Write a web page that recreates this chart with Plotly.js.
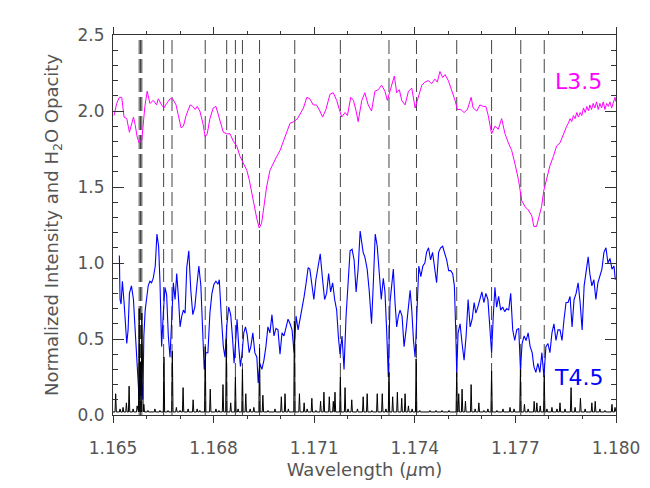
<!DOCTYPE html>
<html>
<head>
<meta charset="utf-8">
<script src="https://cdn.plot.ly/plotly-3.0.1.min.js"></script>
<style>
  body { margin: 0; background: #fff; }
  #chart { width: 650px; height: 488px; }
</style>
</head>
<body>
<div id="chart"></div>
<script>
// L3.5 spectrum (offset by +1)
var lWave = [
  1.16503,1.16511,1.16519,1.16526,1.16533,1.16541,1.16549,1.16561,1.16566,1.16572,
  1.16578,1.16586,1.16595,1.16602,1.16610,1.16620,1.16630,1.16635,1.16645,1.16652,
  1.16660,1.16670,1.16678,1.16688,1.16695,1.16703,1.16710,1.16718,1.16730,1.16738,
  1.16745,1.16751,1.16759,1.16768,1.16775,1.16781,1.16789,1.16799,1.16807,1.16814,
  1.16821,1.16829,1.16839,1.16849,1.16859,1.16869,1.16879,1.16889,1.16899,1.16906,
  1.16914,1.16920,1.16929,1.16936,1.16943,1.16950,1.16958,1.16968,1.16978,1.16988,
  1.16998,1.17008,1.17018,1.17028,1.17040,1.17050,1.17058,1.17068,1.17078,1.17087,
  1.17097,1.17107,1.17117,1.17125,1.17135,1.17147,1.17157,1.17167,1.17175,1.17182,
  1.17192,1.17199,1.17209,1.17217,1.17225,1.17231,1.17242,1.17251,1.17261,1.17271,
  1.17281,1.17291,1.17301,1.17311,1.17318,1.17326,1.17333,1.17339,1.17346,1.17354,
  1.17361,1.17371,1.17381,1.17391,1.17401,1.17410,1.17421,1.17430,1.17440,1.17450,
  1.17460,1.17467,1.17475,1.17483,1.17490,1.17500,1.17510,1.17520,1.17527,1.17537,
  1.17547,1.17557,1.17568,1.17574,1.17585,1.17594,1.17604,1.17612,1.17619,1.17629,
  1.17639,1.17649,1.17659,1.17669,1.17679,1.17689,1.17699,1.17709,1.17719,1.17729,
  1.17738,1.17749,1.17755,1.17763,1.17771,1.17778,1.17785,1.17793,1.17803,1.17813,
  1.17823,1.17833,1.17843,1.17853,1.17858,1.17863,1.17868,1.17873,1.17878,1.17883,
  1.17888,1.17893,1.17898,1.17903,1.17908,1.17913,1.17918,1.17922,1.17927,1.17932,
  1.17937,1.17942,1.17947,1.17952,1.17957,1.17962,1.17967,1.17972,1.17977,1.17982,
  1.17987,1.17992,1.17997,1.18000
];
var lFlux = [
  1.97,2.05,2.09,2.09,1.96,1.95,1.86,1.96,1.91,1.83,
  1.79,1.81,2.03,2.13,2.05,2.07,2.04,2.08,2.04,2.02,
  2.05,2.08,2.08,2.04,1.97,1.89,1.90,1.97,2.04,2.03,
  2.01,2.03,2.00,1.92,1.83,1.85,1.95,2.02,2.03,1.98,
  1.92,1.86,1.85,1.85,1.80,1.77,1.70,1.66,1.61,1.55,
  1.46,1.37,1.29,1.23,1.26,1.37,1.50,1.61,1.66,1.70,
  1.74,1.80,1.87,1.92,1.93,1.95,1.98,2.02,2.09,2.08,
  2.04,2.04,2.00,1.96,2.01,2.11,2.12,2.07,2.01,1.96,
  1.99,1.97,2.09,2.07,2.00,1.93,2.07,2.12,2.04,2.00,
  2.13,2.14,2.17,2.13,2.07,2.13,2.18,2.23,2.12,2.14,
  2.07,2.04,2.13,2.15,2.02,2.09,2.17,2.19,2.20,2.18,
  2.21,2.19,2.26,2.22,2.24,2.20,2.14,2.07,2.01,2.01,
  1.99,2.01,2.09,2.02,2.00,2.04,2.03,2.03,1.97,1.85,
  1.90,1.88,1.95,1.85,1.79,1.74,1.65,1.55,1.41,1.37,
  1.35,1.31,1.24,1.24,1.31,1.37,1.48,1.55,1.64,1.70,
  1.77,1.79,1.85,1.90,1.92,1.95,1.93,1.97,1.95,1.99,
  1.96,1.99,1.97,2.02,1.99,2.03,2.00,2.04,2.01,2.05,
  2.02,2.06,2.01,2.05,2.02,2.06,2.01,2.05,2.03,2.06,
  2.02,2.05,2.09,2.06
];

// T4.5 spectrum
var tWave = [
  1.16519,1.16521,1.16524,1.16528,1.16533,1.16537,1.16541,1.16545,1.16549,1.16555,
  1.16561,1.16565,1.16569,1.16572,1.16575,1.16578,1.16581,1.16584,1.16589,1.16592,
  1.16596,1.16600,1.16605,1.16610,1.16615,1.16620,1.16626,1.16631,1.16636,1.16640,
  1.16645,1.16650,1.16655,1.16660,1.16665,1.16670,1.16675,1.16680,1.16685,1.16690,
  1.16695,1.16700,1.16705,1.16710,1.16715,1.16720,1.16726,1.16732,1.16738,1.16744,
  1.16750,1.16756,1.16762,1.16768,1.16772,1.16777,1.16783,1.16789,1.16795,1.16801,
  1.16807,1.16813,1.16817,1.16823,1.16829,1.16834,1.16839,1.16845,1.16851,1.16857,
  1.16861,1.16866,1.16870,1.16875,1.16880,1.16885,1.16890,1.16895,1.16900,1.16906,
  1.16911,1.16917,1.16923,1.16929,1.16933,1.16938,1.16944,1.16950,1.16956,1.16962,
  1.16968,1.16974,1.16980,1.16986,1.16992,1.16998,1.17004,1.17010,1.17016,1.17022,
  1.17028,1.17034,1.17040,1.17046,1.17052,1.17058,1.17064,1.17070,1.17076,1.17082,
  1.17087,1.17093,1.17099,1.17105,1.17111,1.17118,1.17125,1.17131,1.17137,1.17143,
  1.17149,1.17155,1.17161,1.17167,1.17172,1.17177,1.17183,1.17189,1.17195,1.17201,
  1.17207,1.17213,1.17219,1.17225,1.17231,1.17237,1.17242,1.17246,1.17251,1.17258,
  1.17264,1.17271,1.17276,1.17282,1.17288,1.17294,1.17300,1.17306,1.17311,1.17316,
  1.17321,1.17326,1.17331,1.17336,1.17341,1.17346,1.17351,1.17356,1.17362,1.17368,
  1.17374,1.17380,1.17386,1.17391,1.17396,1.17401,1.17406,1.17412,1.17418,1.17424,
  1.17430,1.17435,1.17441,1.17447,1.17453,1.17459,1.17465,1.17471,1.17477,1.17483,
  1.17489,1.17495,1.17501,1.17507,1.17513,1.17518,1.17522,1.17525,1.17529,1.17535,
  1.17541,1.17547,1.17553,1.17559,1.17565,1.17571,1.17577,1.17582,1.17588,1.17594,
  1.17600,1.17606,1.17612,1.17618,1.17624,1.17629,1.17634,1.17639,1.17644,1.17650,
  1.17656,1.17662,1.17668,1.17674,1.17680,1.17686,1.17692,1.17698,1.17704,1.17710,
  1.17715,1.17720,1.17726,1.17732,1.17738,1.17744,1.17750,1.17755,1.17761,1.17767,
  1.17773,1.17779,1.17785,1.17791,1.17797,1.17803,1.17809,1.17815,1.17821,1.17827,
  1.17833,1.17839,1.17845,1.17851,1.17857,1.17863,1.17869,1.17875,1.17881,1.17887,
  1.17893,1.17899,1.17905,1.17911,1.17917,1.17922,1.17928,1.17934,1.17940,1.17946,
  1.17952,1.17958,1.17964,1.17970,1.17976,1.17982,1.17988,1.17994,1.17998
];
var tFlux = [
  1.05,0.76,0.73,0.88,0.74,0.63,0.47,0.56,0.80,0.85,
  0.76,0.60,0.43,0.30,0.19,0.10,0.30,0.25,0.10,0.52,
  0.69,0.76,0.85,0.88,0.87,0.90,0.98,1.19,1.11,0.88,
  0.45,0.67,0.84,0.79,0.52,0.38,0.58,0.87,0.76,0.93,
  0.78,0.58,0.65,0.69,0.67,0.97,1.08,0.82,0.66,0.71,
  0.85,0.98,0.85,0.56,0.30,0.41,0.41,0.67,0.80,0.86,
  0.88,0.86,0.89,0.65,0.45,0.38,0.58,0.71,0.66,0.49,
  0.34,0.49,0.63,0.45,0.32,0.41,0.54,0.58,0.53,0.41,
  0.45,0.54,0.41,0.38,0.21,0.34,0.30,0.36,0.45,0.58,
  0.54,0.66,0.52,0.57,0.56,0.40,0.54,0.52,0.57,0.63,
  0.60,0.56,0.41,0.65,0.56,0.63,0.69,0.78,0.87,0.97,
  0.96,0.85,0.76,0.89,0.96,1.06,0.89,0.76,0.80,0.93,
  0.81,0.87,0.76,0.69,0.52,0.40,0.52,0.30,0.65,0.90,
  1.08,1.09,1.02,0.81,0.96,1.21,1.12,1.07,1.04,0.96,
  0.82,0.60,0.85,1.19,1.11,0.96,0.76,0.90,0.81,0.56,
  0.25,0.74,0.85,0.96,0.74,0.58,0.65,0.69,0.65,0.45,
  0.56,0.71,0.82,0.69,0.49,0.38,0.67,0.98,0.91,0.98,
  1.00,1.07,1.10,1.02,1.07,0.97,0.87,1.07,1.10,1.11,
  1.07,1.02,0.95,0.95,0.93,0.85,0.56,0.28,0.54,0.60,
  0.47,0.36,0.52,0.76,0.58,0.63,0.74,0.67,0.71,0.76,
  0.81,0.74,0.80,0.76,0.58,0.41,0.65,0.84,0.71,0.78,
  0.69,0.71,0.68,0.70,0.69,0.80,0.56,0.49,0.56,0.57,
  0.30,0.47,0.52,0.49,0.54,0.45,0.41,0.32,0.28,0.34,
  0.28,0.41,0.25,0.45,0.47,0.41,0.54,0.60,0.49,0.56,
  0.56,0.49,0.63,0.74,0.74,0.78,0.58,0.76,0.80,0.87,
  0.74,0.56,0.85,0.96,1.04,0.93,0.85,0.89,0.76,0.87,
  0.91,0.96,1.07,1.10,1.00,1.03,0.96,0.98,0.89
];

// H2O opacity: line centres and peak heights, sitting on a low floor
var h2oWave = [
  1.16508,1.16521,1.16530,1.16540,1.16548,1.16560,1.16572,1.16578,1.16582,1.16586,
  1.16592,1.16604,1.16625,1.16640,1.16652,1.16664,1.16677,1.16689,1.16700,1.16709,
  1.16724,1.16739,1.16751,1.16759,1.16775,1.16790,1.16807,1.16816,1.16828,1.16838,
  1.16851,1.16865,1.16873,1.16886,1.16896,1.16909,1.16920,1.16937,1.16947,1.16962,
  1.16983,1.17002,1.17013,1.17023,1.17041,1.17056,1.17070,1.17079,1.17093,1.17105,
  1.17119,1.17129,1.17145,1.17157,1.17162,1.17178,1.17192,1.17201,1.17212,1.17229,
  1.17246,1.17258,1.17272,1.17288,1.17303,1.17314,1.17323,1.17334,1.17348,1.17361,
  1.17371,1.17381,1.17392,1.17404,1.17415,1.17445,1.17463,1.17481,1.17502,1.17525,
  1.17531,1.17541,1.17551,1.17568,1.17580,1.17591,1.17606,1.17618,1.17629,1.17645,
  1.17663,1.17684,1.17696,1.17715,1.17727,1.17738,1.17756,1.17764,1.17774,1.17786,
  1.17794,1.17809,1.17824,1.17833,1.17848,1.17866,1.17878,1.17894,1.17908,1.17928,
  1.17938,1.17952,1.17967,1.17988,1.17997
];
var h2oPeak = [
  0.14,0.04,0.05,0.08,0.19,0.04,0.06,0.70,0.35,0.67,
  0.07,0.03,0.04,0.03,0.38,0.03,0.42,0.05,0.03,0.18,
  0.04,0.10,0.04,0.03,0.45,0.17,0.04,0.03,0.20,0.50,
  0.08,0.25,0.04,0.30,0.14,0.04,0.05,0.44,0.13,0.03,
  0.04,0.12,0.14,0.04,0.62,0.14,0.08,0.04,0.11,0.03,
  0.09,0.15,0.12,0.09,0.15,0.25,0.18,0.04,0.10,0.04,
  0.12,0.14,0.03,0.14,0.14,0.04,0.28,0.12,0.15,0.11,
  0.14,0.06,0.04,0.37,0.03,0.03,0.03,0.03,0.03,0.28,
  0.14,0.17,0.09,0.20,0.04,0.08,0.03,0.04,0.29,0.03,
  0.04,0.05,0.04,0.30,0.07,0.04,0.09,0.08,0.06,0.26,
  0.04,0.05,0.04,0.08,0.04,0.18,0.05,0.11,0.04,0.08,
  0.09,0.04,0.03,0.07,0.05
];
var h2oFloor = 0.02;

// marked line positions (dashed)
var markWave = [
  1.16578,1.16582,1.16586,1.16651,1.16676,1.16775,1.16839,1.16865,1.16886,
  1.16937,1.17042,1.17178,1.17323,1.17405,1.17525,1.17629,1.17716,1.17786
];

var xTicks = [1.165, 1.168, 1.171, 1.174, 1.177, 1.180];
var yTicks = [0, 0.5, 1.0, 1.5, 2.0, 2.5];

var h2oX = [1.165], h2oY = [h2oFloor];
h2oWave.forEach(function (w, i) {
  h2oX.push(w - 0.00002, w, w + 0.00002);
  h2oY.push(h2oFloor, h2oPeak[i], h2oFloor);
});
h2oX.push(1.180); h2oY.push(h2oFloor);

var lTrace = {
  x: lWave, y: lFlux, mode: 'lines', type: 'scatter',
  line: {color: '#ff00ff', width: 1}, hoverinfo: 'skip'
};
var tTrace = {
  x: tWave, y: tFlux, mode: 'lines', type: 'scatter',
  line: {color: '#0000ff', width: 1.1}, hoverinfo: 'skip'
};
var h2oTrace = {
  x: h2oX, y: h2oY, mode: 'lines', type: 'scatter',
  line: {color: '#000000', width: 1}, hoverinfo: 'skip'
};

var data = [lTrace, tTrace, h2oTrace];

var axisFont = {family: 'DejaVu Sans', size: 17, color: '#555'};
var titleFont = {family: 'DejaVu Sans', size: 18, color: '#555'};

var layout = {
  width: 650,
  height: 488,
  margin: {l: 113, r: 34, t: 35, b: 73},
  paper_bgcolor: '#fff',
  plot_bgcolor: '#fff',
  showlegend: false,
  xaxis: {
    range: [1.165, 1.180],
    tickmode: 'array',
    tickvals: xTicks,
    ticktext: xTicks.map(function (v) { return v.toFixed(3); }),
    ticks: 'outside', ticklen: 7, tickwidth: 1, tickcolor: '#333',
    minor: {tick0: 1.165, dtick: 0.001, ticks: 'outside', ticklen: 3, tickcolor: '#333'},
    showline: true, linecolor: '#333', linewidth: 1, mirror: 'ticks',
    showgrid: false, zeroline: false,
    tickfont: axisFont,
    ticklabelstandoff: 11,
    title: {text: 'Wavelength (<i>μ</i>m)', font: titleFont, standoff: 5}
  },
  yaxis: {
    range: [0, 2.5],
    tickmode: 'array',
    tickvals: yTicks,
    ticktext: yTicks.map(function (v) { return v.toFixed(1); }),
    ticks: 'inside', ticklen: 11, tickwidth: 1, tickcolor: '#333',
    minor: {tick0: 0, dtick: 0.1, ticks: 'inside', ticklen: 5, tickcolor: '#333'},
    showline: true, linecolor: '#333', linewidth: 1, mirror: 'ticks',
    showgrid: false, zeroline: false,
    tickfont: axisFont,
    ticklabelstandoff: 4,
    title: {text: 'Normalized Intensity and H<sub>2</sub>O Opacity', font: titleFont, standoff: 14}
  },
  shapes: markWave.map(function (w) {
    return {
      type: 'line', xref: 'x', yref: 'paper', x0: w, x1: w, y0: 0, y1: 1,
      layer: 'below', line: {color: '#444', width: 1, dash: '14px,5px'}
    };
  }),
  annotations: [
    {x: 1.17887, y: 2.195, xref: 'x', yref: 'y', text: 'L3.5', showarrow: false,
     font: {family: 'DejaVu Sans', size: 22, color: '#ff00ff'}},
    {x: 1.17887, y: 0.25, xref: 'x', yref: 'y', text: 'T4.5', showarrow: false,
     font: {family: 'DejaVu Sans', size: 22, color: '#0000ff'}}
  ]
};

Plotly.newPlot('chart', data, layout, {staticPlot: true, displayModeBar: false});
</script>
</body>
</html>
